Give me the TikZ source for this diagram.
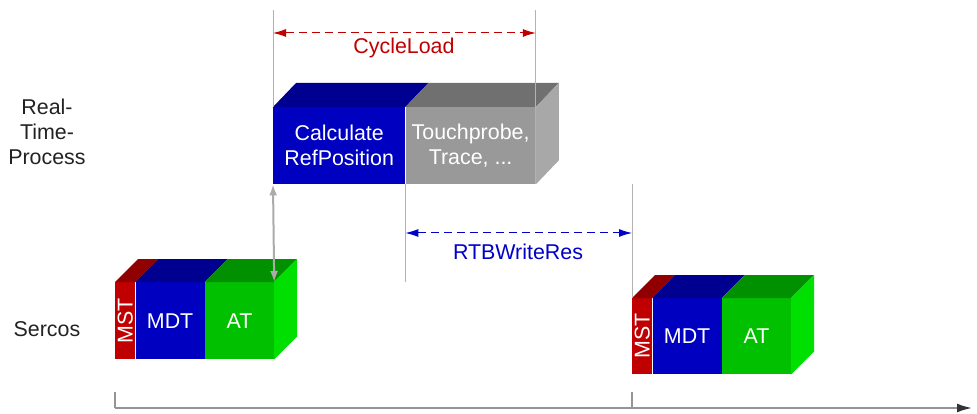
\documentclass[tikz,border=0pt]{standalone}
\usepackage{fontspec}
\setmainfont{Liberation Sans}
\usepackage{tikz}
\usetikzlibrary{calc,positioning}
\usetikzlibrary{arrows.meta}
\usepackage{xcolor}
\definecolor{rtblue}{HTML}{0000C0}
\definecolor{rtbluetop}{HTML}{000090}
\definecolor{rtgray}{HTML}{999999}
\definecolor{rtgraytop}{HTML}{707070}
\definecolor{rtgrayside}{HTML}{A8A8A8}
\definecolor{mstred}{HTML}{C00000}
\definecolor{mstredtop}{HTML}{900000}
\definecolor{atgreen}{HTML}{00C000}
\definecolor{atgreentop}{HTML}{009000}
\definecolor{atgreenside}{HTML}{00E000}
\definecolor{cycred}{HTML}{C00000}
\definecolor{rtbblue}{HTML}{0000C8}
\definecolor{labelgray}{HTML}{222222}

\tikzset{
  face/.style={draw=none,inner sep=0pt,text=white,align=center,anchor=north west},
  guide/.style={draw=black!30,line width=1pt},
  cycarrow/.style={cycred,line width=1pt,dash pattern=on 8pt off 5pt,{Latex[length=13pt,width=8pt]}-{Latex[length=13pt,width=8pt]}},
  rtbarrow/.style={rtbblue,line width=1pt,dash pattern=on 8pt off 5pt,{Latex[length=13pt,width=8pt]}-{Latex[length=13pt,width=8pt]}},
  syncarrow/.style={draw=black!33,line width=2pt,{Latex[length=11pt,width=8pt]}-{Latex[length=11pt,width=8pt]}},
  timeaxis/.style={draw=black!42,line width=2pt,-{Latex[length=15pt,width=9pt,color=black!80]}},
  rowlabel/.style={text=labelgray,align=center}
}

\begin{document}
\begin{tikzpicture}[x=1pt,y=-1pt,every node/.style={font=\fontsize{21.4}{25}\selectfont}]
  \useasboundingbox (0,0) rectangle (977,414);

  \coordinate (top) at (0,10);
  \coordinate (cl) at (0,33);
  \coordinate (rtb) at (0,233);
  \coordinate (tick) at (0,392);
  \coordinate (t0) at (0,408);
  \coordinate (tend) at (972,408);

  % real-time process
  \node[face,fill=rtblue,minimum width=132pt,minimum height=77pt] (calc) at (273,107) {Calculate\\RefPosition};
  \node[face,fill=rtgray,minimum width=130pt,minimum height=77pt] (trace) at (calc.north east) {Touchprobe,\\Trace, ...};
  \fill[rtbluetop] (calc.north west) -- ++(23,-24) -- ([shift={(23,-24)}]calc.north east) -- (calc.north east) -- cycle;
  \fill[rtgraytop] (trace.north west) -- ++(23,-24) -- ([shift={(23,-24)}]trace.north east) -- (trace.north east) -- cycle;
  \fill[rtgrayside] (trace.north east) -- ++(23,-24) -- ([shift={(23,-24)}]trace.south east) -- (trace.south east) -- cycle;

  % sercos telegrams
  \foreach \n/\x/\y/\h in {1/115/282/77,2/632/298/76}{
    \node[face,fill=mstred,minimum width=20pt,minimum height=\h pt] (mst\n) at (\x,\y) {\rotatebox{90}{MST}};
    \node[face,fill=rtblue,minimum width=69pt,minimum height=\h pt] (mdt\n) at (mst\n.north east) {MDT};
    \node[face,fill=atgreen,minimum width=69pt,minimum height=\h pt] (at\n) at (mdt\n.north east) {AT};
    \fill[mstredtop] (mst\n.north west) -- ++(23,-23) -- ([shift={(23,-23)}]mst\n.north east) -- (mst\n.north east) -- cycle;
    \fill[rtbluetop] (mdt\n.north west) -- ++(23,-23) -- ([shift={(23,-23)}]mdt\n.north east) -- (mdt\n.north east) -- cycle;
    \fill[atgreentop] (at\n.north west) -- ++(23,-23) -- ([shift={(23,-23)}]at\n.north east) -- (at\n.north east) -- cycle;
    \fill[atgreenside] (at\n.north east) -- ++(23,-23) -- ([shift={(23,-23)}]at\n.south east) -- (at\n.south east) -- cycle;
    \draw[guide,line width=2pt,draw=black!42] (mst\n.south west |- tick) -- (mst\n.south west |- t0);
  }

  \draw[guide] (calc.north west) -- (calc.north west |- top);
  \draw[guide] (trace.south east) -- (trace.north east |- top);
  \draw[guide] (trace.south west) -- (trace.south west |- mdt1.north);
  \draw[guide] (mst2.north west |- trace.south) -- (mst2.north west);

  \draw[cycarrow] (calc.north west |- cl) -- (trace.north east |- cl);
  \node[text=cycred] (cycleload) at (404,48) {CycleLoad};
  \draw[rtbarrow] (trace.south west |- rtb) -- (mst2.north west |- rtb);
  \node[text=rtbblue] (rtbwriteres) at (518,252) {RTBWriteRes};
  \draw[syncarrow] (calc.south west) -- (at1.north east);

  \draw[timeaxis] (mst1.south west |- t0) -- (tend);
  \node[anchor=base west,text=labelgray] (tlabel) at (975,418) {t};

  \node[rowlabel] (rtp) at (47,132) {Real-\\Time-\\Process};
  \node[rowlabel] (sercos) at (47,329) {Sercos};
\end{tikzpicture}
\end{document}
